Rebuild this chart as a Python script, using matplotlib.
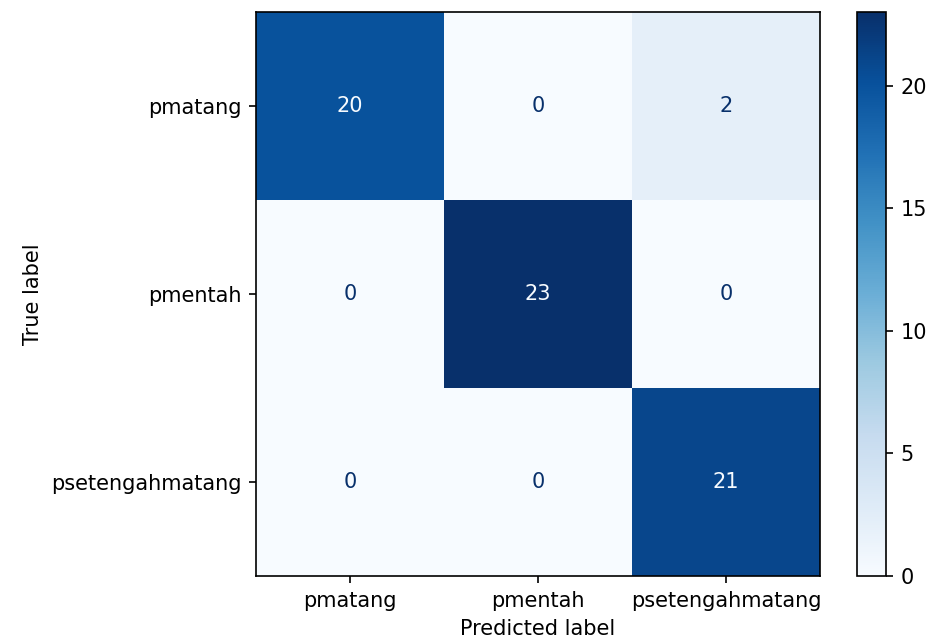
import matplotlib
matplotlib.use("Agg")
import matplotlib.pyplot as plt
import numpy as np

labels = ["pmatang", "pmentah", "psetengahmatang"]
cm = np.array([[20, 0, 2],
               [0, 23, 0],
               [0, 0, 21]])

dpi = 150
fig = plt.figure(figsize=(930 / dpi, 644 / dpi), dpi=dpi)
ax = fig.add_axes([256 / 930, 1 - 576 / 644, 564 / 930, 564 / 644])
cax = fig.add_axes([857 / 930, 1 - 576 / 644, 29 / 930, 564 / 644])

cmap = plt.get_cmap("Blues")
im = ax.imshow(cm, interpolation="nearest", cmap=cmap, vmin=cm.min(), vmax=cm.max())
fig.colorbar(im, cax=cax)

thresh = (cm.max() + cm.min()) / 2.0
cmap_min, cmap_max = cmap(0.0), cmap(1.0)
for i in range(cm.shape[0]):
    for j in range(cm.shape[1]):
        color = cmap_min if cm[i, j] > thresh else cmap_max
        ax.text(j, i, str(cm[i, j]), ha="center", va="center", color=color)

n = len(labels)
ax.set_xticks(np.arange(n))
ax.set_xticklabels(labels)
ax.set_yticks(np.arange(n))
ax.set_yticklabels(labels)
ax.set_xlabel("Predicted label")
ax.set_ylabel("True label")
ax.set_ylim(n - 0.5, -0.5)

fig.savefig("out.png", dpi=dpi)
